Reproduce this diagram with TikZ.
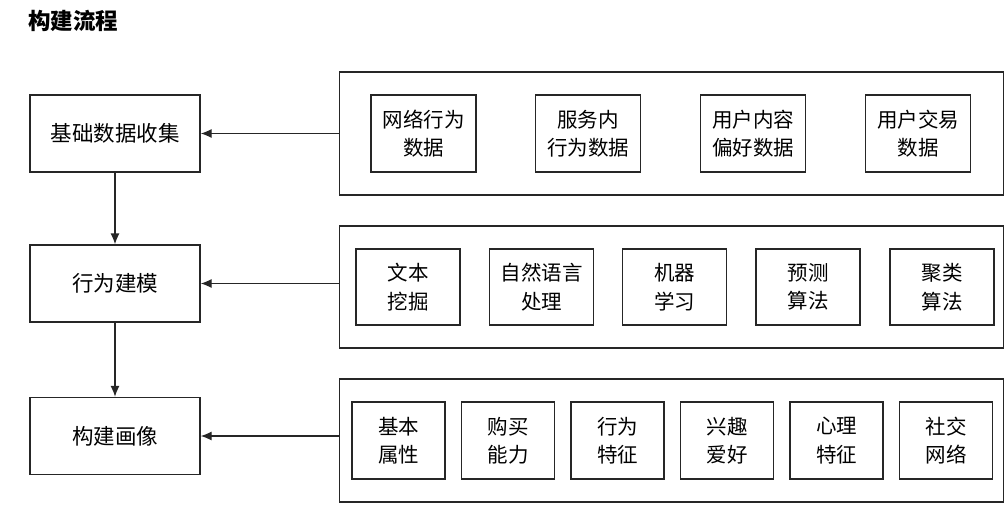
\documentclass[tikz,border=0pt]{standalone}
\usepackage{fontspec}
\setmainfont{Noto Sans CJK SC}
\usetikzlibrary{arrows.meta}

\tikzset{
  stage/.style={draw=black!85, line width=1.3pt, minimum width=170pt, minimum height=77pt,
    font=\fontsize{21.5}{24}\selectfont},
  group/.style={draw=black!85, line width=1.3pt, minimum width=664pt, minimum height=123pt},
  item/.style={draw=black!85, line width=1.3pt, align=center, minimum height=77pt, inner xsep=2pt,
    font=\fontsize{20.5}{28.5}\selectfont},
  flow/.style={-{Latex[length=11pt,width=9pt]}, line width=1.3pt, black!85}
}

\begin{document}
\begin{tikzpicture}[x=1pt,y=-1pt]
  \useasboundingbox (0,0) rectangle (1008,532);
  \node[anchor=west, inner sep=0pt, font=\fontsize{22.5}{24}\selectfont\bfseries] (title) at (28,21) {构建流程};

  % left column
  \node[stage] (base) at (115,133.5) {基础数据收集};
  \node[stage] (model) at (115,283.5) {行为建模};
  \node[stage] (portrait) at (115,436) {构建画像};
  \draw[flow] (base) -- (model);
  \draw[flow] (model) -- (portrait);

  % sources
  \node[group] (src) at (671.75,133.5) {};
  \foreach \x/\t [count=\i] in {423.5/网络行为\\数据, 588/服务内\\行为数据, 753/用户内容\\偏好数据, 918/用户交易\\数据}
    \node[item, minimum width=105pt] (src\i) at (\x,133.5) {\t};

  % methods
  \node[group, minimum height=122pt] (meth) at (671.75,287) {};
  \foreach \x/\t [count=\i] in {408/文本\\挖掘, 541.5/自然语言\\处理, 674.5/机器\\学习, 808/预测\\算法, 942/聚类\\算法}
    \node[item, minimum width=104pt, minimum height=76pt] (meth\i) at (\x,287) {\t};

  % tags
  \node[group] (tag) at (671.75,440.5) {};
  \foreach \x/\t [count=\i] in {398.5/基本\\属性, 508/购买\\能力, 617.5/行为\\特征, 727/兴趣\\爱好, 836.5/心理\\特征, 946/社交\\网络}
    \node[item, minimum width=93pt] (tag\i) at (\x,440.5) {\t};

  \draw[flow] (src.west |- base.east) -- (base.east);
  \draw[flow] (meth.west |- model.east) -- (model.east);
  \draw[flow] (tag.west |- portrait.east) -- (portrait.east);
\end{tikzpicture}
\end{document}
